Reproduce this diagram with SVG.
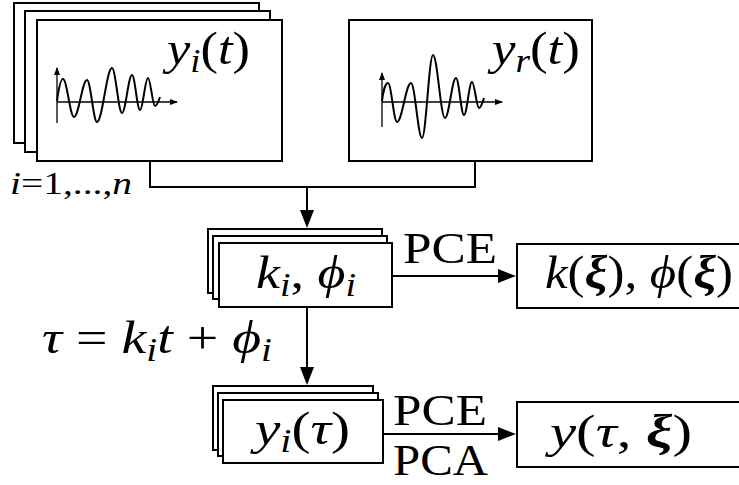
<svg xmlns="http://www.w3.org/2000/svg" width="739" height="485" viewBox="0 0 739 485">
<style>
.box{fill:#fff;stroke:#000;stroke-width:2}
.conn{fill:none;stroke:#000;stroke-width:2}
.wave{fill:none;stroke:#000;stroke-width:2}
.ax{fill:none;stroke:#000;stroke-width:1.3}
.m{font-family:"Liberation Serif","Times New Roman",serif;font-style:italic;font-size:47px;fill:#000}
.t{font-family:"Liberation Serif","Times New Roman",serif;font-size:45px;fill:#000}
.r{font-style:normal}
.b{font-weight:bold}
.sub{font-size:33px}
</style>
<defs>
<marker id="ah" markerUnits="userSpaceOnUse" markerWidth="18" markerHeight="14" refX="16" refY="7" orient="auto"><path d="M0,0 L18,7 L0,14 z" fill="#000"/></marker>
<marker id="sa" markerUnits="userSpaceOnUse" markerWidth="8" markerHeight="6" refX="7" refY="3" orient="auto"><path d="M0,0 L8,3 L0,6 z" fill="#000"/></marker>
</defs>
<rect width="739" height="485" fill="#fff"/>

<g id="connectors">
<path class="conn" d="M150,161 V187 H475 V161"/>
<path class="conn" d="M307,187 V226" marker-end="url(#ah)"/>
<path class="conn" d="M392,276 H514" marker-end="url(#ah)"/>
<path class="conn" d="M307,307 V383" marker-end="url(#ah)"/>
<path class="conn" d="M383,434 H514" marker-end="url(#ah)"/>
<text class="t" x="403" y="263" textLength="94" lengthAdjust="spacingAndGlyphs">PCE</text>
<text class="t" x="393" y="425" textLength="94" lengthAdjust="spacingAndGlyphs">PCE</text>
<text class="t" x="393" y="475" textLength="95" lengthAdjust="spacingAndGlyphs">PCA</text>
<text class="m" x="42" y="353" textLength="230" lengthAdjust="spacingAndGlyphs">τ<tspan class="r"> = </tspan>k<tspan class="sub" dy="8">i</tspan><tspan dy="-8">t</tspan><tspan class="r"> + </tspan>ϕ<tspan class="sub" dy="8">i</tspan></text>
</g>

<g id="signals-i">
<rect class="box" x="14" y="3" width="245" height="140"/>
<rect class="box" x="25" y="11" width="245" height="141"/>
<rect class="box" x="37" y="20" width="245" height="141"/>
<path class="ax" d="M57,123 V68" marker-end="url(#sa)"/>
<path class="ax" d="M57,102 H177" marker-end="url(#sa)"/>
<path class="wave" d="M57,101 C58.5,90 60.8,79 63,79 C67,79 70,117 74,117 C78.7,117 82.3,80 87,80 C90.6,80 93.4,122 97,122 C102.4,122 106.6,68 112,68 C115.6,68 118.4,113 122,113 C125.6,113 128.4,75 132,75 C134.9,75 137.1,110 140,110 C142.9,110 145.1,78 148,78 C150.5,78 152.5,106 155,106 C157,106 159,100 160,97"/>
<text class="m" x="167" y="64" textLength="83" lengthAdjust="spacingAndGlyphs">y<tspan class="sub" dy="8">i</tspan><tspan class="r" dy="-8">(</tspan>t<tspan class="r">)</tspan></text>
<text class="m" x="10" y="194" style="font-size:31px" textLength="122" lengthAdjust="spacingAndGlyphs">i<tspan class="r">=1,...,</tspan>n</text>
</g>

<g id="signal-r">
<rect class="box" x="349" y="20" width="243" height="141"/>
<path class="ax" d="M382,127 V73" marker-end="url(#sa)"/>
<path class="ax" d="M382,102 H502" marker-end="url(#sa)"/>
<path class="wave" d="M382,101 C383,92 385.5,83 388,83 C391.3,83 393.7,122 397,122 C402.1,122 405.9,83 411,83 C415,83 418,138 422,138 C426,138 429,55 433,55 C437.4,55 440.6,118 445,118 C449,118 452,78 456,78 C458.9,78 461.1,115 464,115 C466.9,115 469.1,82 472,82 C474.5,82 476.5,108 479,108 C481,108 483,101 484,98"/>
<text class="m" x="492" y="64" textLength="88" lengthAdjust="spacingAndGlyphs">y<tspan class="sub" dy="8">r</tspan><tspan class="r" dy="-8">(</tspan>t<tspan class="r">)</tspan></text>
</g>

<g id="params-stack">
<rect class="box" x="208" y="229" width="174" height="64"/>
<rect class="box" x="213" y="236" width="174" height="63"/>
<rect class="box" x="219" y="243" width="173" height="64"/>
<text class="m" x="256" y="288" textLength="100" lengthAdjust="spacingAndGlyphs">k<tspan class="sub" dy="8">i</tspan><tspan class="r" dy="-8">, </tspan>ϕ<tspan class="sub" dy="8">i</tspan></text>
</g>

<g id="params-pce">
<rect class="box" x="517" y="244" width="240" height="64"/>
<text class="m" x="545" y="288" textLength="188" lengthAdjust="spacingAndGlyphs">k<tspan class="r">(</tspan><tspan class="b">ξ</tspan><tspan class="r">), </tspan>ϕ<tspan class="r">(</tspan><tspan class="b">ξ</tspan><tspan class="r">)</tspan></text>
</g>

<g id="aligned-stack">
<rect class="box" x="213" y="386" width="160" height="64"/>
<rect class="box" x="218" y="393" width="160" height="63"/>
<rect class="box" x="223" y="400" width="160" height="63"/>
<text class="m" x="255" y="444" textLength="95" lengthAdjust="spacingAndGlyphs">y<tspan class="sub" dy="8">i</tspan><tspan class="r" dy="-8">(</tspan>τ<tspan class="r">)</tspan></text>
</g>

<g id="output">
<rect class="box" x="517" y="402" width="240" height="65"/>
<text class="m" x="550" y="447" textLength="142" lengthAdjust="spacingAndGlyphs">y<tspan class="r">(</tspan>τ<tspan class="r">, </tspan><tspan class="b">ξ</tspan><tspan class="r">)</tspan></text>
</g>
</svg>
